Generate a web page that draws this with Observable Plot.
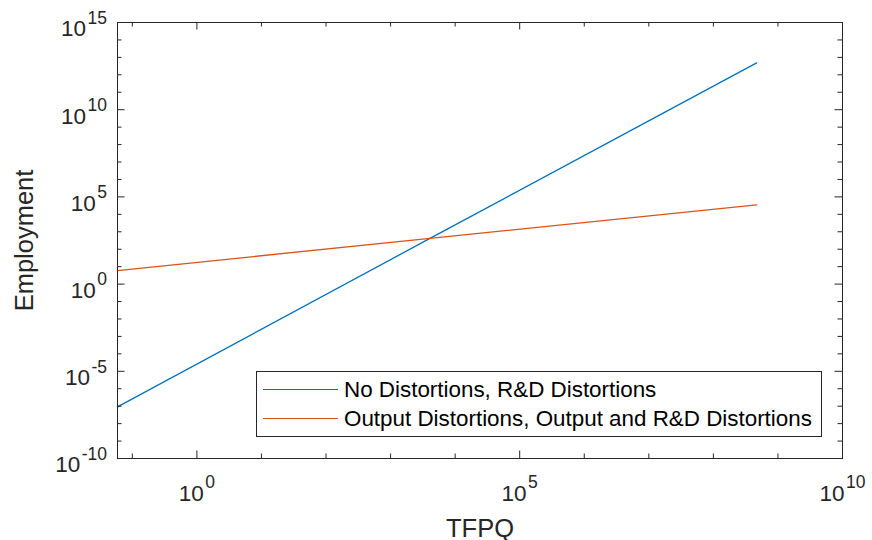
<!DOCTYPE html>
<html><head><meta charset="utf-8">
<script src="https://cdn.jsdelivr.net/npm/d3@7"></script>
<script src="https://cdn.jsdelivr.net/npm/@observablehq/plot@0.6"></script>
<style>
html,body{margin:0;padding:0;background:#fff;}
#wrap{position:relative;width:872px;height:540px;font-family:"Liberation Sans",Arial,Helvetica,sans-serif;}
#legend{position:absolute;box-sizing:border-box;border:1px solid #262626;background:#fff;}
.row{position:absolute;left:0;right:0;display:flex;align-items:center;height:28.7px;font-size:22.4px;color:#000;white-space:nowrap;}
.sw{display:inline-block;width:75px;margin-left:6px;margin-right:6px;height:0;border-top:1.3px solid;}
</style></head><body><div id="wrap"></div>
<script>
// ---- data ----
const tfpq = [0.0589, 4074, 4.68e8];
const empNoDist = [9.1e-8, 417, 4.8e12];
const empOutputDist = [6.0, 417, 3.5e4];
const seriesNames = ["No Distortions, R&D Distortions", "Output Distortions, Output and R&D Distortions"];
const seriesColors = ["#0072BD", "#D95319"];
const xDomain = [0.0589, 1e10];
const yDomain = [1e-10, 1e15];
const xTickExps = [-1, 0, 1, 2, 3, 4, 5, 6, 7, 8, 9, 10];
const xLabelExps = [0, 5, 10];
const yTickExps = [-10,-9,-8,-7,-6,-5,-4,-3,-2,-1,0,1,2,3,4,5,6,7,8,9,10,11,12,13,14,15];
const yLabelExps = [-10, -5, 0, 5, 10, 15];
const xLabel = "TFPQ";
const yLabel = "Employment";

// ---- layout ----
const W = 872, H = 540, ml = 117, mr = 30, mt = 22, mb = 82;
const fw = W - ml - mr, fh = H - mt - mb;
const axisColor = "#262626";
const majLen = 7.5, minLen = 4.5;

const rows = [
  ...tfpq.map((x, i) => ({x, y: empNoDist[i], s: seriesNames[0]})),
  ...tfpq.map((x, i) => ({x, y: empOutputDist[i], s: seriesNames[1]}))
];

const xMinor = xTickExps.filter(e => !xLabelExps.includes(e)).map(e => Math.pow(10, e));
const xMajor = xLabelExps.map(e => Math.pow(10, e));
const yMinor = yTickExps.filter(e => !yLabelExps.includes(e)).map(e => Math.pow(10, e));
const yMajor = yLabelExps.map(e => Math.pow(10, e));

const svg = Plot.plot({
  width: W, height: H,
  marginLeft: ml, marginRight: mr, marginTop: mt, marginBottom: mb,
  style: {fontFamily: '"Liberation Sans", Arial, Helvetica, sans-serif', fontSize: "22.5px", color: axisColor, background: "#fff"},
  x: {type: "log", domain: xDomain, axis: null},
  y: {type: "log", domain: yDomain, axis: null},
  color: {domain: seriesNames, range: seriesColors},
  marks: [
    Plot.line(rows, {x: "x", y: "y", z: "s", stroke: "s", strokeWidth: 1.3}),
    Plot.frame({stroke: axisColor, strokeWidth: 1}),
    // bottom / top ticks (inward)
    Plot.tickX(xMinor, {x: d => d, insetTop: fh - minLen, stroke: axisColor}),
    Plot.tickX(xMinor, {x: d => d, insetBottom: fh - minLen, stroke: axisColor}),
    Plot.tickX(xMajor, {x: d => d, insetTop: fh - majLen, stroke: axisColor}),
    Plot.tickX(xMajor, {x: d => d, insetBottom: fh - majLen, stroke: axisColor}),
    // left / right ticks (inward)
    Plot.tickY(yMinor, {y: d => d, insetRight: fw - minLen, stroke: axisColor}),
    Plot.tickY(yMinor, {y: d => d, insetLeft: fw - minLen, stroke: axisColor}),
    Plot.tickY(yMajor, {y: d => d, insetRight: fw - majLen, stroke: axisColor}),
    Plot.tickY(yMajor, {y: d => d, insetLeft: fw - majLen, stroke: axisColor}),
    // tick labels
    Plot.text(xMajor, {x: d => d, text: (d, i) => "10^" + xLabelExps[i], frameAnchor: "bottom", dy: 42, lineAnchor: "bottom", textAnchor: "middle", fill: axisColor, fontSize: 22.5}),
    Plot.text(yMajor, {y: d => d, text: (d, i) => "10^" + yLabelExps[i], frameAnchor: "left", dx: -10.5, dy: 13.8, lineAnchor: "bottom", textAnchor: "end", fill: axisColor, fontSize: 22.5}),
    // axis labels
    Plot.text([xLabel], {text: d => d, frameAnchor: "bottom", dy: 78, lineAnchor: "bottom", textAnchor: "middle", fill: axisColor, fontSize: 25.5}),
    Plot.text([yLabel], {text: d => d, frameAnchor: "left", dx: -85, rotate: -90, lineAnchor: "bottom", textAnchor: "middle", fill: axisColor, fontSize: 25.5})
  ]
});

// superscript exponents
svg.querySelectorAll("text").forEach(t => {
  const m = /^10\^(.+)$/.exec(t.textContent);
  if (!m) return;
  t.textContent = "10";
  const ts = document.createElementNS("http://www.w3.org/2000/svg", "tspan");
  ts.setAttribute("dy", "-12.5");
  ts.setAttribute("dx", "1.5");
  ts.setAttribute("font-size", "17.5");
  ts.textContent = m[1];
  t.appendChild(ts);
});

const wrap = document.getElementById("wrap");
wrap.appendChild(svg);

// legend inside the axes (top-left at 256,371)
const legend = document.createElement("div");
legend.id = "legend";
Object.assign(legend.style, {left: "256px", top: "371px", width: "566px", height: "66px"});
seriesNames.forEach((name, i) => {
  const row = document.createElement("div");
  row.className = "row";
  row.style.top = (3.6 + i * 28.7) + "px";
  const sw = document.createElement("span");
  sw.className = "sw";
  sw.style.borderTopColor = seriesColors[i];
  const tx = document.createElement("span");
  tx.textContent = name;
  row.appendChild(sw);
  row.appendChild(tx);
  legend.appendChild(row);
});
wrap.appendChild(legend);
</script>
</body></html>
